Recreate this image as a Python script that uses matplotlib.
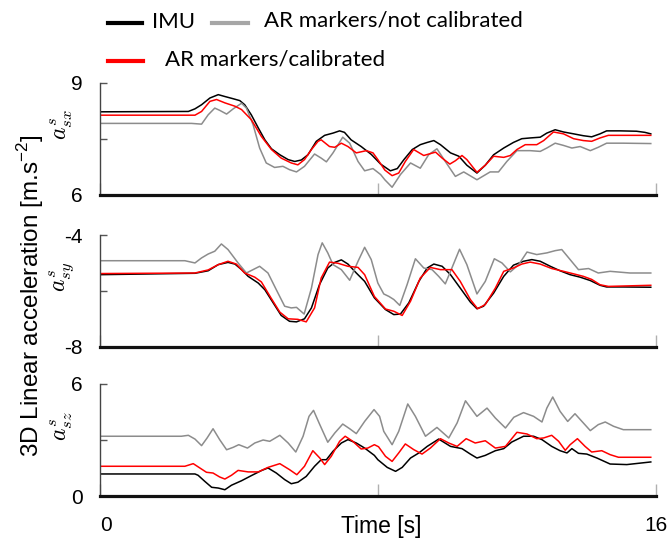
import matplotlib
matplotlib.use("Agg")
import matplotlib.pyplot as plt
from matplotlib.lines import Line2D

plt.rcParams['font.family'] = ['Liberation Sans', 'DejaVu Sans']

# ---------------- data ----------------
# Panel 1 : a_sx
sx_imu_t = [0, 2.55, 2.74, 2.93, 3.17, 3.41, 3.60, 3.84, 4.03, 4.17, 4.36, 4.56, 4.75, 4.94, 5.18, 5.42,
            5.61, 5.80, 5.99, 6.23, 6.47, 6.71, 6.90, 7.04, 7.23, 7.52, 7.81, 8.08, 8.36, 8.56, 8.75, 8.99,
            9.22, 9.42, 9.61, 9.80, 10.09, 10.33, 10.56, 10.85, 11.09, 11.33, 11.62, 11.90, 12.14, 12.38,
            12.67, 12.86, 13.10, 13.34, 13.63, 13.91, 14.15, 14.39, 14.58, 14.97, 15.44, 15.68, 15.85]
sx_imu_v = [8.22, 8.23, 8.30, 8.41, 8.59, 8.68, 8.63, 8.57, 8.52, 8.41, 8.14, 7.79, 7.47, 7.23, 7.07, 6.94,
            6.89, 6.93, 7.07, 7.43, 7.59, 7.65, 7.71, 7.67, 7.47, 7.29, 7.08, 6.82, 6.64, 6.70, 6.94, 7.21,
            7.34, 7.40, 7.45, 7.34, 7.12, 7.03, 6.79, 6.58, 6.79, 7.07, 7.25, 7.40, 7.50, 7.52,
            7.54, 7.65, 7.74, 7.68, 7.63, 7.58, 7.55, 7.63, 7.71, 7.71, 7.70, 7.67, 7.63]

sx_cal_t = [0, 2.74, 2.93, 3.17, 3.36, 3.60, 3.89, 4.08, 4.36, 4.65, 4.94, 5.22, 5.51, 5.70, 5.89, 6.09,
            6.28, 6.37, 6.61, 6.76, 6.95, 7.14, 7.38, 7.67, 7.86, 8.00, 8.20, 8.41, 8.60, 8.79, 9.03, 9.32,
            9.66, 9.85, 10.07, 10.23, 10.42, 10.56, 10.85, 11.09, 11.33, 11.62, 11.81, 12.00, 12.24, 12.57,
            12.77, 13.05, 13.34, 13.63, 13.91, 14.15, 14.39, 14.63, 15.06, 15.85]
sx_cal_v = [8.13, 8.13, 8.23, 8.50, 8.55, 8.46, 8.37, 8.28, 8.01, 7.56, 7.21, 6.98, 6.85, 6.80, 6.94, 7.21,
            7.43, 7.47, 7.29, 7.27, 7.38, 7.29, 7.12, 7.18, 7.12, 6.94, 6.66, 6.51, 6.58, 6.89, 7.21, 7.05,
            7.14, 6.98, 6.82, 6.91, 7.05, 6.94, 6.60, 6.79, 7.03, 7.00, 7.05, 7.21, 7.34, 7.34,
            7.45, 7.68, 7.63, 7.50, 7.45, 7.43, 7.52, 7.59, 7.59, 7.59]

sx_raw_t = [0, 2.64, 2.93, 3.12, 3.31, 3.45, 3.65, 3.84, 4.08, 4.22, 4.41, 4.60, 4.79, 5.03, 5.27, 5.46,
            5.66, 5.89, 6.18, 6.37, 6.52, 6.71, 6.99, 7.19, 7.43, 7.62, 7.86, 8.08, 8.20, 8.41, 8.65, 8.94,
            9.22, 9.46, 9.70, 9.94, 10.23, 10.47, 10.85, 11.23, 11.47, 11.71, 12.00, 12.38, 12.67, 12.86,
            13.10, 13.34, 13.58, 13.82, 14.11, 14.34, 14.58, 15.06, 15.85]
sx_raw_v = [7.91, 7.91, 7.89, 8.14, 8.32, 8.26, 8.16, 8.30, 8.45, 8.32, 7.88, 7.25, 6.85, 6.73, 6.76, 6.67,
            6.61, 6.76, 7.09, 6.98, 6.88, 7.12, 7.54, 7.38, 6.89, 6.64, 6.70, 6.54, 6.40, 6.20, 6.54, 6.85,
            6.71, 7.07, 7.23, 6.89, 6.49, 6.61, 6.40, 6.61, 6.61, 6.89, 7.18, 7.18, 7.16, 7.25,
            7.38, 7.32, 7.25, 7.29, 7.18, 7.27, 7.38, 7.38, 7.37]

# Panel 2 : a_sy
sy_imu_t = [0, 2.74, 3.12, 3.41, 3.69, 3.89, 4.08, 4.27, 4.56, 4.75, 4.99, 5.22, 5.46, 5.66, 5.89, 6.09,
            6.32, 6.56, 6.76, 6.95, 7.14, 7.38, 7.62, 7.90, 8.22, 8.46, 8.65, 8.89, 9.18, 9.42, 9.61, 9.85,
            10.09, 10.37, 10.66, 10.85, 11.04, 11.33, 11.62, 11.90, 12.19, 12.43, 12.67, 12.96, 13.24,
            13.53, 13.82, 14.11, 14.39, 14.58, 15.06, 15.85]
sy_imu_v = [-5.41, -5.36, -5.27, -5.05, -4.97, -5.03, -5.23, -5.47, -5.71, -5.95, -6.42, -6.87, -7.08, -7.10,
            -6.99, -6.60, -5.77, -5.17, -4.97, -4.88, -5.03, -5.35, -5.65, -6.24, -6.66, -6.84, -6.82, -6.42,
            -5.65, -5.17, -5.03, -5.11, -5.41, -5.89, -6.39, -6.63, -6.54, -6.07, -5.47, -5.07, -4.93, -4.87,
            -4.93, -5.11, -5.27, -5.41, -5.50, -5.62, -5.79, -5.85, -5.85, -5.86]

sy_cal_t = [0, 2.74, 3.12, 3.41, 3.69, 3.93, 4.17, 4.46, 4.65, 4.94, 5.18, 5.42, 5.70, 5.94, 6.18, 6.37,
            6.61, 6.85, 7.14, 7.43, 7.62, 7.90, 8.22, 8.46, 8.70, 8.94, 9.22, 9.51, 9.80, 10.13, 10.37, 10.66,
            10.87, 11.09, 11.38, 11.62, 11.90, 12.14, 12.38, 12.67, 13.00, 13.34, 13.63, 13.91, 14.15,
            14.39, 14.63, 15.85]
sy_cal_v = [-5.37, -5.35, -5.24, -5.05, -4.93, -5.03, -5.35, -5.50, -5.67, -6.27, -6.75, -6.99, -7.01, -7.10,
            -6.60, -5.53, -4.96, -5.00, -5.11, -5.15, -5.41, -6.19, -6.64, -6.72, -6.87, -6.36, -5.53, -5.15,
            -5.23, -5.23, -5.65, -6.30, -6.63, -6.48, -5.89, -5.29, -5.17, -5.03, -4.96, -5.03, -5.19, -5.29,
            -5.38, -5.47, -5.58, -5.77, -5.83, -5.79]

sy_raw_t = [0, 2.45, 2.74, 2.93, 3.12, 3.31, 3.50, 3.69, 3.98, 4.22, 4.41, 4.60, 4.84, 5.08, 5.32, 5.51,
            5.66, 5.88, 6.09, 6.28, 6.40, 6.56, 6.71, 6.95, 7.19, 7.43, 7.62, 7.81, 8.00, 8.17, 8.32, 8.46,
            8.63, 8.84, 9.08, 9.32, 9.56, 9.75, 9.94, 10.13, 10.35, 10.56, 10.85, 11.09, 11.35, 11.57, 11.81,
            12.05, 12.29, 12.57, 12.86, 13.10, 13.29, 13.53, 13.77, 14.06, 14.34, 14.68, 15.25, 15.85]
sy_raw_v = [-4.91, -4.91, -4.99, -4.81, -4.67, -4.57, -4.31, -4.51, -4.99, -5.35, -5.23, -5.11, -5.35, -5.95,
            -6.54, -6.60, -6.58, -6.82, -5.89, -4.69, -4.27, -4.63, -5.05, -5.23, -5.61, -4.93, -4.43, -4.87,
            -5.71, -6.10, -6.19, -6.30, -6.51, -5.77, -4.84, -5.17, -5.23, -5.47, -5.74, -5.17, -4.50, -5.05,
            -6.10, -5.65, -4.84, -4.99, -5.31, -5.05, -4.60, -4.69, -4.63, -4.55, -4.51, -4.87, -5.23, -5.19,
            -5.35, -5.29, -5.35, -5.35]

# Panel 3 : a_sz
sz_imu_t = [0, 2.74, 2.83, 3.02, 3.22, 3.41, 3.60, 3.79, 4.08, 4.36, 4.65, 4.84, 5.08, 5.32, 5.51, 5.70,
            5.94, 6.18, 6.37, 6.52, 6.71, 6.95, 7.14, 7.38, 7.62, 7.90, 8.00, 8.27, 8.51, 8.70, 8.94, 9.18,
            9.42, 9.75, 10.09, 10.42, 10.66, 10.85, 11.09, 11.38, 11.62, 11.85, 12.19, 12.48, 12.72, 13.00,
            13.24, 13.44, 13.58, 13.77, 14.01, 14.30, 14.68, 15.16, 15.85]
sz_imu_v = [1.19, 1.19, 1.12, 0.80, 0.48, 0.44, 0.35, 0.59, 0.83, 1.10, 1.37, 1.51, 1.24, 0.89, 0.67, 0.75,
            1.06, 1.60, 1.95, 1.95, 2.40, 2.84, 3.02, 2.84, 2.57, 2.18, 1.95, 1.54, 1.33, 1.54, 2.04, 2.31,
            2.66, 3.05, 2.66, 2.54, 2.25, 2.04, 2.18, 2.43, 2.54, 2.89, 3.20, 3.20, 3.02, 2.66,
            2.43, 2.31, 2.54, 2.29, 2.25, 2.04, 1.72, 1.69, 1.83]

sz_cal_t = [0, 2.45, 2.69, 2.88, 3.07, 3.26, 3.45, 3.60, 3.79, 3.98, 4.27, 4.56, 4.84, 5.18, 5.46, 5.67,
            5.89, 6.13, 6.33, 6.47, 6.66, 6.90, 7.06, 7.28, 7.52, 7.71, 7.90, 8.02, 8.22, 8.41, 8.60, 8.79,
            9.03, 9.27, 9.51, 9.80, 10.04, 10.28, 10.54, 10.80, 11.09, 11.38, 11.67, 12.00, 12.29, 12.57,
            12.77, 13.00, 13.20, 13.39, 13.53, 13.74, 13.96, 14.15, 14.44, 14.68, 14.92, 15.85]
sz_cal_v = [1.60, 1.60, 1.74, 1.51, 1.28, 1.24, 1.03, 0.92, 1.12, 1.38, 1.30, 1.30, 1.54, 1.74, 1.42, 1.15,
            1.60, 2.43, 2.04, 1.69, 2.13, 2.93, 3.20, 2.93, 2.52, 2.57, 2.75, 2.64, 2.13, 1.86, 2.31, 2.79,
            2.49, 2.25, 2.57, 3.07, 2.84, 2.66, 3.07, 2.84, 2.96, 2.57, 2.66, 3.41, 3.32, 3.07,
            3.11, 3.25, 2.93, 2.45, 2.75, 3.07, 2.66, 2.36, 2.43, 2.22, 2.08, 2.08]

sz_raw_t = [0, 2.35, 2.55, 2.74, 2.93, 3.09, 3.26, 3.45, 3.65, 3.84, 4.00, 4.25, 4.46, 4.70, 4.89, 5.18,
            5.42, 5.64, 5.85, 6.02, 6.15, 6.33, 6.56, 6.76, 6.99, 7.19, 7.38, 7.62, 7.89, 8.05, 8.17, 8.41,
            8.60, 8.86, 9.08, 9.37, 9.70, 10.04, 10.28, 10.52, 10.85, 11.14, 11.38, 11.67, 11.91, 12.19,
            12.48, 12.72, 12.86, 13.03, 13.24, 13.46, 13.67, 13.87, 14.11, 14.34, 14.54, 14.78, 15.06, 15.85]
sz_raw_v = [3.20, 3.20, 3.25, 3.05, 2.70, 3.11, 3.60, 3.02, 2.48, 2.61, 2.75, 2.57, 2.84, 3.00, 2.93, 3.25,
            2.84, 2.36, 3.20, 4.26, 4.58, 3.82, 2.88, 3.37, 3.85, 3.60, 3.34, 3.99, 4.62, 4.26, 3.46, 2.75,
            3.46, 4.92, 4.26, 3.20, 3.67, 3.11, 3.91, 5.09, 4.26, 4.70, 4.17, 3.64, 4.21, 4.46,
            4.26, 3.96, 4.70, 5.29, 4.53, 3.99, 4.40, 3.99, 3.50, 3.82, 3.96, 3.73, 3.55, 3.55]

panel_limits = [(6, 9), (-8, -4), (0, 6)]
panel_names = [r'$a^{s}_{sx}$', r'$a^{s}_{sy}$', r'$a^{s}_{sz}$']
x_ticks = [0, 8, 16]
x_ticklabels = ['0', '', '16']
legend_labels = ['IMU', 'AR markers/not calibrated', 'AR markers/calibrated']

series = [
    [(sx_imu_t, sx_imu_v), (sx_raw_t, sx_raw_v), (sx_cal_t, sx_cal_v)],
    [(sy_imu_t, sy_imu_v), (sy_raw_t, sy_raw_v), (sy_cal_t, sy_cal_v)],
    [(sz_imu_t, sz_imu_v), (sz_raw_t, sz_raw_v), (sz_cal_t, sz_cal_v)],
]
colors = ['#000000', '#8c8c8c', '#ff0000']
legend_colors = ['#000000', '#a6a6a6', '#ff0000']

# ---------------- figure ----------------
W, H = 672, 542
fig = plt.figure(figsize=(W / 100, H / 100), dpi=100)

panels_px = [(82.7, 194.7), (235.3, 347.0), (383.7, 496.3)]
left_px, right_px = 99.7, 656.0
label_y_px = [125, 277, 426]

axes = []
for i, (top, bot) in enumerate(panels_px):
    ax = fig.add_axes([left_px / W, 1 - bot / H, (right_px - left_px) / W, (bot - top) / H])
    axes.append(ax)
    for (t, v), c in zip(series[i], colors):
        ax.plot(t, v, color=c, lw=1.1, solid_joinstyle='round')
    lo, hi = panel_limits[i]
    ax.set_xlim(0, 16)
    ax.set_ylim(lo, hi)
    for s in ['top', 'right']:
        ax.spines[s].set_visible(False)
    ax.spines['left'].set_color('#444444')
    ax.spines['left'].set_linewidth(1.0)
    ax.spines['bottom'].set_color('#111111')
    ax.spines['bottom'].set_linewidth(2.3)
    ax.set_yticks([lo, (lo + hi) / 2, hi])
    ax.set_yticklabels([str(lo), '', str(hi)])
    ax.tick_params(axis='y', direction='in', length=5, width=1, color='#555555',
                   labelsize=15, pad=12)
    ax.set_xticks(x_ticks)
    ax.tick_params(axis='x', direction='in', length=9, width=1, color='#b0b0b0',
                   labelsize=15, pad=14, labelbottom=(i == 2))
    if i == 2:
        ax.set_xticklabels(x_ticklabels)
        ax.get_xticklabels()[0].set_horizontalalignment('left')
    fig.text(62 / W, 1 - label_y_px[i] / H, panel_names[i], rotation=90, ha='center', va='center',
             fontsize=17, math_fontfamily='cm')

# shared labels
fig.text(31 / W, 1 - 296 / H, r'3D Linear acceleration [m.s$^{\mathregular{-2}}$]', rotation=90,
         ha='center', va='center', fontsize=17.5)
fig.text(381 / W, 1 - 533 / H, 'Time [s]', ha='center', va='baseline', fontsize=16.5)

# legend (manual)
leg_lines = [((108, 142), 22.7), ((212, 248), 22.7), ((108, 143), 60.7)]
leg_text = [(152, 28.3), (264, 26.7), (165, 65.0)]
for (xs, y), c, (tx, ty), lab in zip(leg_lines, legend_colors, leg_text, legend_labels):
    fig.add_artist(Line2D([xs[0] / W, xs[1] / W], [1 - y / H, 1 - y / H], color=c, lw=3,
                          transform=fig.transFigure))
    fig.text(tx / W, 1 - ty / H, lab, ha='left', va='baseline', fontsize=16,
             family=['Lato', 'DejaVu Sans'])

fig.savefig('out.png', dpi=100)
